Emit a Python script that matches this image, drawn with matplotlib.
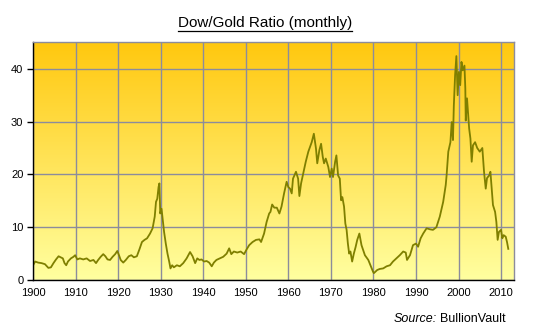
import matplotlib
matplotlib.use("Agg")
import matplotlib.pyplot as plt
import numpy as np
from matplotlib.lines import Line2D

plt.rcParams['font.family'] = ['Liberation Sans', 'DejaVu Sans']

# Dow / gold ratio, sampled at the turning points of the monthly series
years = [
    1900.0, 1900.5, 1901.2, 1902.0, 1902.8, 1903.6, 1904.2, 1904.8, 1905.4, 1906.0,
    1906.5, 1907.0, 1907.4, 1907.8, 1908.2, 1908.9, 1909.5, 1909.9, 1910.4, 1911.0,
    1911.8, 1912.6, 1913.4, 1914.2, 1914.8, 1915.3, 1915.9, 1916.5, 1917.0, 1917.5,
    1918.1, 1918.7, 1919.3, 1919.8, 1920.2, 1920.6, 1921.2, 1921.8, 1922.5, 1923.1,
    1923.7, 1924.4, 1925.0, 1925.6, 1926.2, 1926.8, 1927.5, 1928.1, 1928.6, 1928.9,
    1929.2, 1929.5, 1929.7, 1929.9, 1930.2, 1930.5, 1930.8, 1931.2, 1931.6, 1932.0,
    1932.3, 1932.7, 1933.1, 1933.8, 1934.5, 1935.3, 1936.1, 1936.9, 1937.5, 1938.1,
    1938.6, 1939.1, 1939.6, 1940.2, 1940.8, 1941.4, 1942.0, 1942.5, 1943.1, 1943.9,
    1944.7, 1945.5, 1946.1, 1946.6, 1947.2, 1948.0, 1948.8, 1949.6, 1950.2, 1950.8,
    1951.6, 1952.4, 1953.2, 1953.6, 1954.3, 1954.9, 1955.5, 1955.8, 1956.2, 1956.7,
    1957.3, 1957.9, 1958.4, 1959.0, 1959.6, 1960.0, 1960.4, 1960.8, 1961.1, 1961.8,
    1962.3, 1962.6, 1963.0, 1963.5, 1964.1, 1964.7, 1965.1, 1965.5, 1966.0, 1966.5,
    1966.8, 1967.3, 1967.7, 1968.1, 1968.4, 1968.8, 1969.4, 1969.8, 1970.2, 1970.5,
    1971.0, 1971.3, 1971.7, 1972.1, 1972.4, 1972.7, 1973.1, 1973.4, 1973.7, 1974.0,
    1974.3, 1974.6, 1975.0, 1975.4, 1975.8, 1976.2, 1976.7, 1977.2, 1978.0, 1978.8,
    1979.3, 1979.9, 1980.1, 1980.9, 1981.5, 1982.3, 1983.1, 1983.9, 1984.6, 1985.4,
    1986.2, 1987.0, 1987.6, 1987.9, 1988.6, 1989.3, 1990.0, 1990.5, 1991.1, 1991.7,
    1992.5, 1993.3, 1994.0, 1994.8, 1995.6, 1996.4, 1997.0, 1997.2, 1997.6, 1998.1,
    1998.4, 1998.7, 1998.9, 1999.2, 1999.5, 1999.8, 2000.1, 2000.4, 2000.7, 2001.0,
    2001.4, 2001.6, 2001.7, 2002.0, 2002.5, 2002.8, 2003.1, 2003.4, 2003.9, 2004.4,
    2005.0, 2005.6, 2006.0, 2006.4, 2006.7, 2007.2, 2007.5, 2007.8, 2008.1, 2008.6,
    2008.9, 2009.2, 2009.5, 2010.0, 2010.3, 2010.6, 2011.1, 2011.4, 2011.7,
]
ratio = [
    2.8, 3.5, 3.3, 3.2, 3.0, 2.3, 2.4, 3.2, 3.9, 4.5,
    4.3, 4.1, 3.2, 2.8, 3.5, 4.1, 4.4, 4.7, 3.9, 4.1,
    3.9, 4.1, 3.6, 3.8, 3.2, 3.8, 4.4, 4.9, 4.5, 3.9,
    3.8, 4.4, 4.9, 5.5, 4.7, 3.8, 3.3, 3.8, 4.5, 4.7,
    4.3, 4.5, 5.8, 7.2, 7.6, 7.9, 8.8, 9.8, 12.0, 14.8,
    15.4, 17.6, 18.3, 12.6, 13.5, 11.3, 9.1, 6.9, 5.0, 3.5,
    2.2, 2.8, 2.4, 2.8, 2.6, 3.2, 4.1, 5.3, 4.5, 3.2,
    4.1, 3.8, 3.9, 3.5, 3.6, 3.3, 2.6, 3.3, 3.8, 4.1,
    4.4, 5.0, 6.0, 4.9, 5.4, 5.2, 5.4, 4.9, 5.8, 6.6,
    7.2, 7.6, 7.7, 7.2, 8.8, 11.0, 12.6, 12.9, 14.3, 13.7,
    13.7, 12.6, 13.9, 16.4, 18.6, 17.6, 17.3, 16.4, 19.2, 20.5,
    19.2, 15.9, 18.3, 20.2, 22.4, 24.3, 25.2, 26.1, 27.7, 24.9,
    22.1, 24.6, 25.8, 23.3, 22.1, 23.0, 21.4, 19.5, 21.1, 19.5,
    22.4, 23.6, 19.8, 19.2, 15.1, 15.7, 13.9, 10.7, 9.5, 6.9,
    5.0, 5.4, 3.5, 5.0, 6.2, 7.6, 8.8, 6.6, 4.7, 3.8,
    2.8, 1.6, 1.3, 1.9, 2.1, 2.2, 2.6, 2.8, 3.5, 4.1,
    4.7, 5.4, 5.2, 3.8, 4.7, 6.6, 6.9, 6.3, 7.9, 8.8,
    9.8, 9.6, 9.5, 10.0, 12.0, 14.8, 18.0, 19.8, 24.3, 26.1,
    29.9, 26.5, 33.0, 38.8, 42.4, 35.0, 39.4, 36.9, 41.3, 39.7,
    40.6, 36.3, 30.2, 34.4, 28.7, 26.8, 22.4, 25.5, 26.1, 25.0,
    24.3, 25.0, 20.5, 17.3, 19.3, 19.8, 20.5, 17.3, 14.2, 12.9,
    11.0, 7.6, 9.1, 9.5, 7.9, 8.5, 8.2, 7.2, 5.9,
]

x_ticks = list(range(1900, 2011, 10))
y_ticks = [0, 10, 20, 30, 40]

grid_col = '#8c8c9c'

fig = plt.figure(figsize=(5.33, 3.31), dpi=100)
ax = fig.add_axes([0.062, 0.154, 0.902, 0.718])

# orange-to-pale-yellow background, top to bottom
top = np.array([255, 200, 15]) / 255
bottom = np.array([255, 255, 160]) / 255
t = np.linspace(0, 1, 256)[:, None]
grad = (top * (1 - t) + bottom * t)[:, None, :]
ax.imshow(grad, extent=[0, 1, 0, 1], transform=ax.transAxes,
          aspect='auto', zorder=0)

ax.plot(years, ratio, color='#7f7f00', lw=1.3, zorder=3)

ax.set_xlim(1900, 2013)
ax.set_ylim(0, 45)
ax.set_xticks(x_ticks)
ax.set_yticks(y_ticks)
ax.grid(True, color=grid_col, lw=1.0, zorder=1)
ax.set_axisbelow(False)
for gl in ax.get_xgridlines() + ax.get_ygridlines():
    gl.set_zorder(1)

ax.tick_params(axis='x', length=0, pad=6, labelsize=8)
ax.tick_params(axis='y', length=4, width=1, pad=3, labelsize=8, direction='out')
ax.spines['left'].set_color('black')
ax.spines['bottom'].set_color('black')
ax.spines['top'].set_color(grid_col)
ax.spines['right'].set_color(grid_col)
for s in ax.spines.values():
    s.set_linewidth(1.0)
    s.set_zorder(4)

# title with underline
title = fig.text(0.497, 0.918, 'Dow/Gold Ratio (monthly)', ha='center',
                 va='baseline', fontsize=11)
fig.canvas.draw()
bb = title.get_window_extent().transformed(fig.transFigure.inverted())
uy = bb.y0 - 0.004
fig.add_artist(Line2D([bb.x0, bb.x1], [uy, uy], color='black', lw=0.9,
                      transform=fig.transFigure))

# source note
fig.text(0.949, 0.028, 'BullionVault', ha='right', va='baseline', fontsize=9)
fig.canvas.draw()
src = fig.texts[-1].get_window_extent().transformed(fig.transFigure.inverted())
fig.text(src.x0 - 0.006, 0.028, 'Source:', ha='right', va='baseline',
         fontsize=9, style='italic')

fig.savefig('out.png', dpi=100)
